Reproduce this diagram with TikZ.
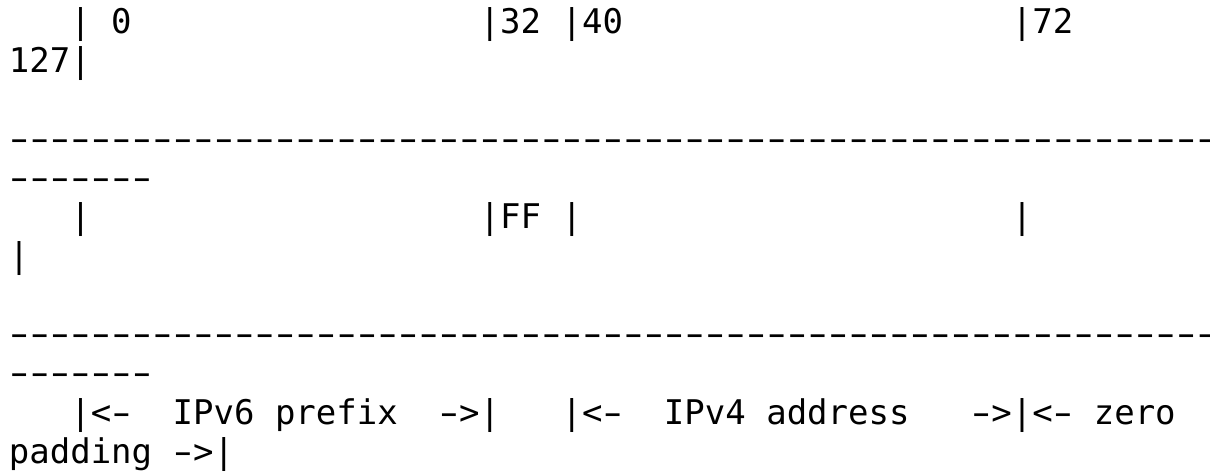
\documentclass[tikz,border=0pt]{standalone}
\usepackage{fontspec}
\setmonofont{DejaVu Sans Mono}
\newcommand\dashfeat{\addfontfeatures{FakeStretch=1.6,LetterSpace=-36.1}}
\newcommand\wdash{{\dashfeat\kern-6.14pt-\kern-6.14pt}}
\begin{document}
\begin{tikzpicture}[x=1pt,y=1pt,
  txt/.style={inner sep=0pt, outer sep=0pt, anchor=base west,
    font=\ttfamily\fontsize{34pt}{39pt}\selectfont},
  dashrow/.style={txt, xshift=-6.14pt,
    font=\ttfamily\fontsize{34pt}{39pt}\selectfont\dashfeat}]
\useasboundingbox (0,0) rectangle (1210,-472);
\fill[white] (0,0) rectangle (1210,-472);
% column x = 8.9 + 20.47*c ; baseline y = 33 + 39.1*(line-1)
% line 1
\node[txt] (b0)   at ({8.9+20.47*3},  -33) {| 0};
\node[txt] (b32)  at ({8.9+20.47*23}, -33) {|32 |40};
\node[txt] (b72)  at ({8.9+20.47*49}, -33) {|72};
% line 2
\node[txt] (b127) at ({8.9},          -72.1) {127|};
% line 4-5
\node[dashrow] (top1) at ({8.9}, -150.3) {-----------------------------------------------------------};
\node[dashrow] (top2) at ({8.9}, -189.4) {-------};
% line 6-7
\node[txt] (f0)   at ({8.9+20.47*3},  -228.5) {|};
\node[txt] (fFF)  at ({8.9+20.47*23}, -228.5) {|FF |};
\node[txt] (f72)  at ({8.9+20.47*49}, -228.5) {|};
\node[txt] (fend) at ({8.9},          -267.6) {|};
% line 9-10
\node[dashrow] (bot1) at ({8.9}, -345.8) {-----------------------------------------------------------};
\node[dashrow] (bot2) at ({8.9}, -384.9) {-------};
% line 11-12
\node[txt] (pfx)  at ({8.9+20.47*3},  -424) {|<\wdash\ \ IPv6 prefix\ \ \wdash>|};
\node[txt] (v4)   at ({8.9+20.47*27}, -424) {|<\wdash\ \ IPv4 address\ \ \ \wdash>|<\wdash\ zero};
\node[txt] (pad)  at ({8.9},          -463.1) {padding \wdash>|};
\end{tikzpicture}
\end{document}
